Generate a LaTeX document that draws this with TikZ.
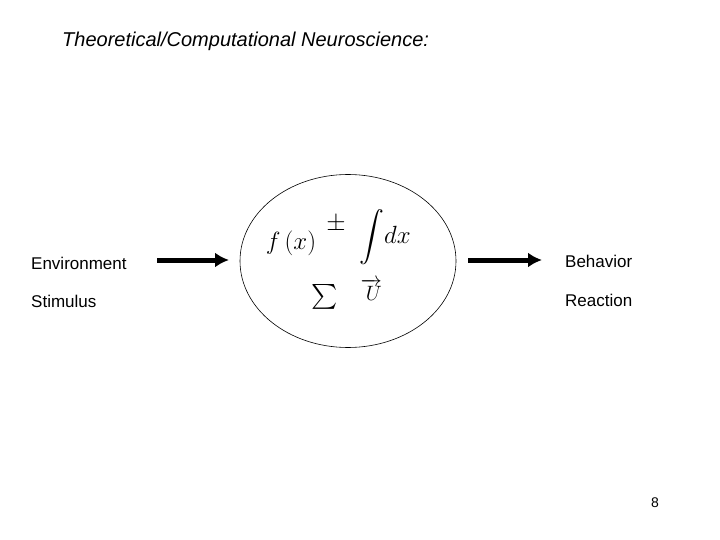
\documentclass[tikz,border=0pt]{standalone}
\usepackage{fontspec}
\setmainfont{Liberation Sans}
\usepackage{amsmath}
\usetikzlibrary{arrows.meta,shapes.geometric}
\begin{document}
\begin{tikzpicture}[x=1pt,y=-1pt,
  lbl/.style={anchor=west,font=\fontsize{17}{20}\selectfont,inner sep=0},
  mth/.style={font=\fontsize{26}{30}\selectfont,inner sep=0},
  bigarrow/.style={line width=5pt,-{Latex[length=14pt,width=15pt]}}]
\useasboundingbox[fill=white] (0,0) rectangle (720,540);
\node[anchor=west,font=\fontsize{20}{24}\selectfont\itshape,inner sep=0] (title) at (62,41) {Theoretical/Computational Neuroscience:};
\node[draw,ellipse,minimum width=216,minimum height=173,inner sep=0,line width=0.6pt] (brain) at (348,261) {};
\node[mth] (f) at (291,243) {$f\,(x)$};
\node[mth] (pm) at (336,224) {$\pm$};
\node[mth] (int) at (385,237) {$\displaystyle\int\! dx$};
\node[mth,font=\fontsize{34}{36}\selectfont] (sum) at (325,297) {$\sum$};
\node[mth,font=\fontsize{22}{26}\selectfont] (U) at (371,290) {$\overrightarrow{\;U}$};
\node[lbl] (env) at (31,263) {Environment};
\node[lbl] (stim) at (31,301) {Stimulus};
\node[lbl] (beh) at (565,261) {Behavior};
\node[lbl] (reac) at (565,300) {Reaction};
\coordinate (a1) at (157,260);
\coordinate (a1e) at (229,260);
\draw[bigarrow] (a1) -- (a1e);
\coordinate (a2) at (468,260);
\coordinate (a3) at (542,260);
\draw[bigarrow] (a2) -- (a3);
\node[font=\fontsize{14}{16}\selectfont,inner sep=0] (pg) at (655,503) {8};
\end{tikzpicture}
\end{document}
